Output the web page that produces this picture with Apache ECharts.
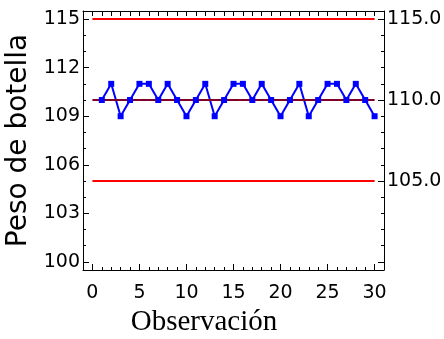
<!DOCTYPE html>
<html>
<head>
<meta charset="utf-8">
<script src="https://cdn.jsdelivr.net/npm/echarts@6/dist/echarts.min.js"></script>
<style>
  html, body { margin: 0; padding: 0; background: #fff; }
  #chart { width: 444px; height: 339px; }
</style>
</head>
<body>
<div id="chart"></div>
<script>
// observations and measured bottle weights
var observacion = [1, 2, 3, 4, 5, 6, 7, 8, 9, 10, 11, 12, 13, 14, 15, 16, 17, 18, 19, 20, 21, 22, 23, 24, 25, 26, 27, 28, 29, 30];
var peso = [110, 111, 109, 110, 111, 111, 110, 111, 110, 109, 110, 111, 109, 110, 111, 111, 110, 111, 110, 109, 110, 111, 109, 110, 111, 111, 110, 111, 110, 109];

// control limits
var limiteX = [0, 30];
var lsc = 115;
var lc = 110;
var lic = 105;

// tick labels
var xTicks = [0, 5, 10, 15, 20, 25, 30];
var xMinor = [0, 1, 2, 3, 4, 5, 6, 7, 8, 9, 10, 11, 12, 13, 14, 15, 16, 17, 18, 19, 20, 21, 22, 23, 24, 25, 26, 27, 28, 29, 30];
var yTicksLeft = [100, 103, 106, 109, 112, 115];
var yTicksRight = [105, 110, 115];
var yMajorRight = [100, 105, 110, 115];
var yMinor = [100, 101, 102, 103, 104, 105, 106, 107, 108, 109, 110, 111, 112, 113, 114, 115];

var chart = echarts.init(document.getElementById('chart'), null, { renderer: 'canvas' });

var lineStyleAxis = { color: '#000', width: 1 };
var tickFont = { fontFamily: 'DejaVu Sans', fontSize: 19, color: '#000' };

function minorAxis(position, values, len) {
    var horiz = position === 'top' || position === 'bottom';
    return {
        type: 'value', position: position,
        min: horiz ? -1 : 99.5,
        max: horiz ? 31 : 115.5,
        axisLine: { show: false, onZero: false },
        axisTick: { show: true, inside: true, length: len, customValues: values, lineStyle: lineStyleAxis },
        axisLabel: { show: false },
        splitLine: { show: false }
    };
}

function pairs(xs, ys) {
    var out = [];
    for (var i = 0; i < xs.length; i++) out.push([xs[i], ys[i]]);
    return out;
}

var options = {
    backgroundColor: '#fff',
    animation: false,

    // Setup grid
    grid: { left: 83, top: 11, right: 60, bottom: 69, containLabel: false, outerBoundsMode: 'none' },

    // Horizontal axes
    xAxis: [{
        type: 'value', position: 'bottom', min: -1, max: 31,
        name: 'Observación', nameLocation: 'middle', nameGap: 38,
        nameTextStyle: { fontFamily: 'Liberation Serif', fontSize: 29, color: '#000', padding: [0, 59, 0, 0] },
        axisLine: { show: true, onZero: false, lineStyle: lineStyleAxis },
        axisTick: { show: true, inside: true, length: 6, customValues: xTicks, lineStyle: lineStyleAxis },
        axisLabel: Object.assign({ margin: 14, customValues: xTicks }, tickFont),
        splitLine: { show: false }
    },
    minorAxis('bottom', xMinor, 3),
    {
        type: 'value', position: 'top', min: -1, max: 31,
        axisLine: { show: true, onZero: false, lineStyle: lineStyleAxis },
        axisTick: { show: true, inside: true, length: 5, customValues: xMinor, lineStyle: lineStyleAxis },
        axisLabel: { show: false },
        splitLine: { show: false }
    }],

    // Vertical axes
    yAxis: [{
        type: 'value', position: 'left', min: 99.5, max: 115.5,
        name: 'Peso de botella', nameLocation: 'middle', nameGap: 44,
        nameTextStyle: { fontFamily: 'DejaVu Sans', fontSize: 28, color: '#000' },
        axisLine: { show: true, onZero: false, lineStyle: lineStyleAxis },
        axisTick: { show: true, inside: true, length: 6, customValues: yTicksLeft, lineStyle: lineStyleAxis },
        axisLabel: Object.assign({ margin: 3, customValues: yTicksLeft }, tickFont),
        splitLine: { show: false }
    },
    minorAxis('left', yMinor, 3),
    {
        type: 'value', position: 'right', min: 99.5, max: 115.5,
        axisLine: { show: true, onZero: false, lineStyle: lineStyleAxis },
        axisTick: { show: true, inside: true, length: 6, customValues: yMajorRight, lineStyle: lineStyleAxis },
        axisLabel: Object.assign({
            margin: 3, customValues: yTicksRight,
            formatter: function (v) { return v.toFixed(1); }
        }, tickFont),
        splitLine: { show: false }
    },
    minorAxis('right', yMinor, 3)],

    // Add series
    series: [{
        type: 'line', xAxisIndex: 0, yAxisIndex: 0,
        data: pairs(limiteX, [lsc, lsc]),
        symbol: 'none', lineStyle: { color: '#ff0000', width: 2 }
    }, {
        type: 'line', xAxisIndex: 0, yAxisIndex: 0,
        data: pairs(limiteX, [lic, lic]),
        symbol: 'none', lineStyle: { color: '#ff0000', width: 2 }
    }, {
        type: 'line', xAxisIndex: 0, yAxisIndex: 0,
        data: pairs(observacion, peso),
        symbol: 'rect', symbolSize: 6,
        itemStyle: { color: '#0000ff' },
        lineStyle: { color: '#0000ff', width: 2 }
    }, {
        type: 'line', xAxisIndex: 0, yAxisIndex: 0,
        data: pairs(limiteX, [lc, lc]),
        symbol: 'none', lineStyle: { color: '#80002a', width: 2 }
    }]
};

chart.setOption(options);
</script>
</body>
</html>
